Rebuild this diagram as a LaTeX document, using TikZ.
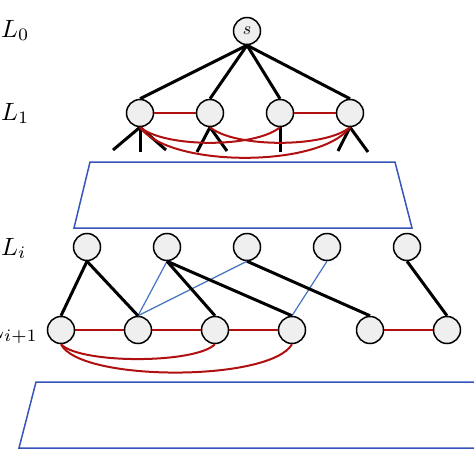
\documentclass[tikz,border=0pt]{standalone}
\usepackage{graphicx}
\usepackage{tikz}
\definecolor{nodefill}{HTML}{EFEFEF}
\definecolor{redline}{HTML}{B01010}
\definecolor{blueline}{HTML}{4472C4}
\definecolor{trapblue}{HTML}{3655B8}
\tikzset{
  vtx/.style={circle,draw=black,line width=1.5pt,fill=nodefill,minimum size=27pt,inner sep=0pt},
  tree/.style={draw=black,line width=3pt},
  rededge/.style={draw=redline,line width=2pt},
  blueedge/.style={draw=blueline,line width=1.2pt},
  trap/.style={draw=trapblue,line width=1.5pt},
  lvl/.style={anchor=base west,inner sep=0pt}
}
\newcommand{\biglab}[1]{\scalebox{2.5}{$#1$}}
\begin{document}
\begin{tikzpicture}[x=1pt,y=-1pt]
\useasboundingbox (0,0) rectangle (474,474);
% labels
\node[lvl] (l0) at (1,37) {\biglab{L_0}};
\node[lvl] (l1) at (1,120) {\biglab{L_1}};
\node[lvl] (li) at (1,255) {\biglab{L_i}};
\node[lvl] (lip) at (-13,338) {\biglab{L_{i+1}}};
% root and L1
\node[vtx] (s) at (247,31) {\scalebox{1.8}{$s$}};
\node[vtx] (a1) at (140,113) {};
\node[vtx] (a2) at (210,113) {};
\node[vtx] (a3) at (280,113) {};
\node[vtx] (a4) at (350,113) {};
\foreach \n in {a1,a2,a3,a4} \draw[tree] (s.south) -- (\n.north);
% stubs
\coordinate (t1) at (113,150);
\coordinate (t2) at (140,152);
\coordinate (t3) at (166,150);
\coordinate (t4) at (197,152);
\coordinate (t5) at (227,151);
\coordinate (t6) at (280,152);
\coordinate (t7) at (338,151);
\coordinate (t8) at (368,152);
\draw[tree] (a1.south) -- (t1);
\draw[tree] (a1.south) -- (t2);
\draw[tree] (a1.south) -- (t3);
\draw[tree] (a2.south) -- (t4);
\draw[tree] (a2.south) -- (t5);
\draw[tree] (a3.south) -- (t6);
\draw[tree] (a4.south) -- (t7);
\draw[tree] (a4.south) -- (t8);
% red edges L1
\draw[rededge] (a1) -- (a2);
\draw[rededge] (a3) -- (a4);
\draw[rededge] (a1.south) .. controls (165,148) and (255,148) .. (a3.south);
\draw[rededge] (a2.south) .. controls (235,148) and (325,148) .. (a4.south);
\draw[rededge] (a1.south) .. controls (170,168) and (320,168) .. (a4.south);
% trapezoid 1
\draw[trap] (90,162) -- (395,162) -- (412,228) -- (74,228) -- cycle;
% Li
\node[vtx] (b1) at (87,247) {};
\node[vtx] (b2) at (167,247) {};
\node[vtx] (b3) at (247,247) {};
\node[vtx] (b4) at (327,247) {};
\node[vtx] (b5) at (407,247) {};
% Li+1
\node[vtx] (c1) at (61,330) {};
\node[vtx] (c2) at (138,330) {};
\node[vtx] (c3) at (215,330) {};
\node[vtx] (c4) at (292,330) {};
\node[vtx] (c5) at (370,330) {};
\node[vtx] (c6) at (447,330) {};
% blue edges
\draw[blueedge] (b2.south) -- (c2.north);
\draw[blueedge] (b3.south) -- (c2.north);
\draw[blueedge] (b4.south) -- (c4.north);
% black edges
\draw[tree] (b1.south) -- (c1.north);
\draw[tree] (b1.south) -- (c2.north);
\draw[tree] (b2.south) -- (c3.north);
\draw[tree] (b2.south) -- (c4.north);
\draw[tree] (b3.south) -- (c5.north);
\draw[tree] (b5.south) -- (c6.north);
% red edges Li+1
\draw[rededge] (c1) -- (c2);
\draw[rededge] (c2) -- (c3);
\draw[rededge] (c3) -- (c4);
\draw[rededge] (c5) -- (c6);
\draw[rededge] (c1.south) .. controls (80,364) and (195,364) .. (c3.south);
\draw[rededge] (c1.south) .. controls (80,382) and (270,382) .. (c4.south);
% trapezoid 2
\draw[trap] (36,382) -- (540,382) -- (560,448) -- (19,448) -- cycle;
\end{tikzpicture}
\end{document}
